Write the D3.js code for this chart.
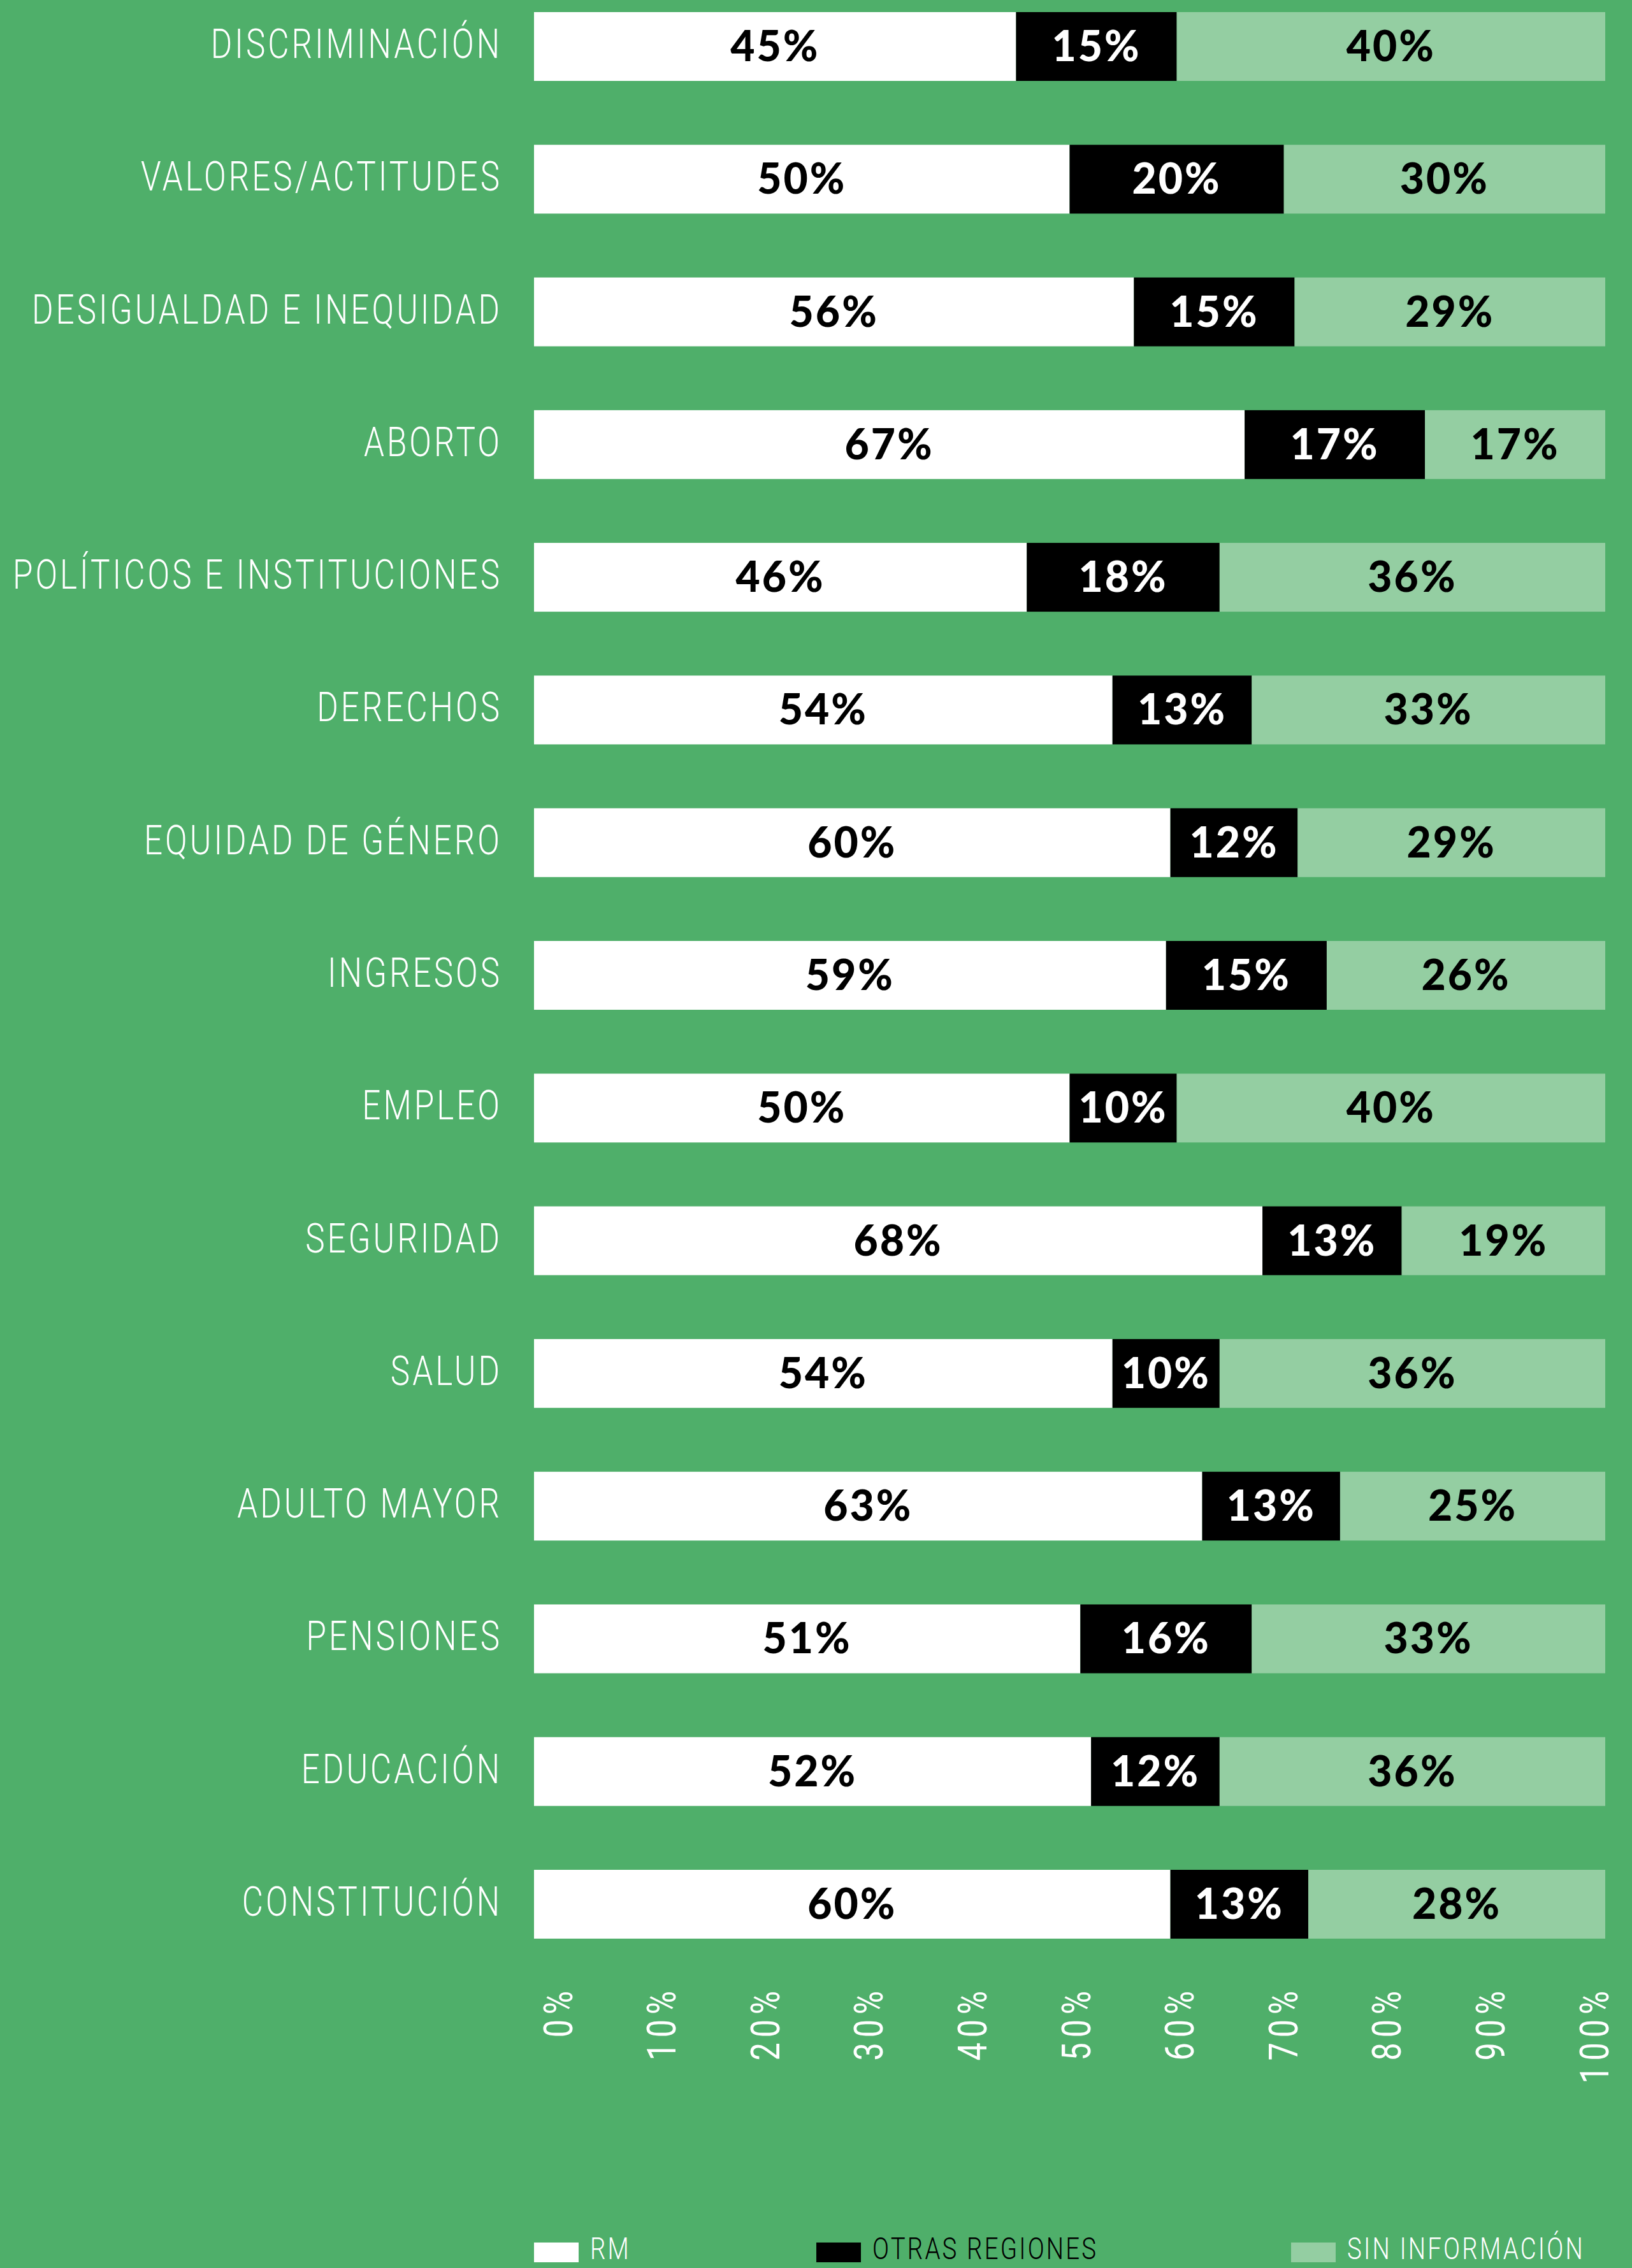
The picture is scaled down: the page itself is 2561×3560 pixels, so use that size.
<!doctype html>
<html>
<head>
<meta charset="utf-8">
<script src="https://cdn.jsdelivr.net/npm/d3@7"></script>
<style>
  html, body { margin: 0; padding: 0; background: #4faf6a; }
  svg { display: block; }
</style>
</head>
<body>
<script>
const categories = ["DISCRIMINACIÓN", "VALORES/ACTITUDES", "DESIGUALDAD E INEQUIDAD", "ABORTO",
  "POLÍTICOS E INSTITUCIONES", "DERECHOS", "EQUIDAD DE GÉNERO", "INGRESOS", "EMPLEO",
  "SEGURIDAD", "SALUD", "ADULTO MAYOR", "PENSIONES", "EDUCACIÓN", "CONSTITUCIÓN"];
const rm = [45, 50, 56, 67, 46, 54, 60, 59, 50, 68, 54, 63, 51, 52, 60];
const otras = [15, 20, 15, 17, 18, 13, 12, 15, 10, 13, 10, 13, 16, 12, 13];
const sinInfo = [40, 30, 29, 17, 36, 33, 29, 26, 40, 19, 36, 25, 33, 36, 28];
const seriesNames = ["RM", "OTRAS REGIONES", "SIN INFORMACIÓN"];
const ticks = [0, 10, 20, 30, 40, 50, 60, 70, 80, 90, 100];

const W = 2561, H = 3560;
const bg = "#4faf6a";
const fills = ["#ffffff", "#000000", "#94cea2"];
const textFills = ["#000000", "#ffffff", "#000000"];
const legendText = ["#ffffff", "#000000", "#ffffff"];

const rows = categories.map((c, i) => ({cat: c, vals: [rm[i], otras[i], sinInfo[i]]}));

const x = d3.scaleLinear().domain([0, 1]).range([838, 2519]);
const xAxisScale = d3.scaleLinear().domain([0, 100]).range([876, 2502]);
const y = d3.scaleBand().domain(categories).range([19, 3043]).paddingInner(0.4815);

const svg = d3.select("body").append("svg").attr("width", W).attr("height", H);
svg.append("rect").attr("width", W).attr("height", H).attr("fill", bg);

const thin = "Roboto, 'Liberation Sans', sans-serif";
const heavy = "Lato, 'DejaVu Sans', sans-serif";

// bars
const row = svg.selectAll("g.row").data(rows).join("g")
    .attr("class", "row")
    .attr("transform", d => `translate(0,${y(d.cat)})`);

row.each(function(d) {
  const total = d3.sum(d.vals);
  let acc = 0;
  const segs = d.vals.map((v, k) => {
    const s = {k, v, x0: acc / total, x1: (acc + v) / total};
    acc += v;
    return s;
  });
  const g = d3.select(this);
  g.selectAll("rect").data(segs).join("rect")
      .attr("x", s => x(s.x0))
      .attr("width", s => x(s.x1) - x(s.x0))
      .attr("height", y.bandwidth())
      .attr("fill", s => fills[s.k]);
  g.selectAll("text").data(segs).join("text")
      .attr("x", s => (x(s.x0) + x(s.x1)) / 2)
      .attr("y", y.bandwidth() / 2 + 23)
      .attr("text-anchor", "middle")
      .attr("font-family", heavy)
      .attr("font-weight", 900)
      .attr("font-size", 66)
      .attr("letter-spacing", 3)
      .attr("fill", s => textFills[s.k])
      .text(s => s.v + "%");
});

// category labels
svg.selectAll("g.cat").data(categories).join("g")
    .attr("class", "cat")
    .attr("transform", d => `translate(788,${y(d) + y.bandwidth() / 2 + 18}) scale(0.8,1)`)
  .append("text")
    .attr("text-anchor", "end")
    .attr("font-family", thin)
    .attr("font-weight", 300)
    .attr("font-size", 64)
    .attr("letter-spacing", 5)
    .attr("fill", "#fff")
    .text(d => d);

// axis labels, rotated
svg.selectAll("g.tick").data(ticks).join("g")
    .attr("class", "tick")
    .attr("transform", d => `translate(${xAxisScale(d)},3117) rotate(-90) scale(0.8,1)`)
  .append("text")
    .attr("text-anchor", "end")
    .attr("dominant-baseline", "central")
    .attr("font-family", thin)
    .attr("font-weight", 400)
    .attr("font-size", 63)
    .attr("letter-spacing", 10)
    .attr("fill", "#fff")
    .text(d => d + "%");

// legend
const legendX = [838, 1281, 2026];
const lg = svg.selectAll("g.legend").data(seriesNames).join("g")
    .attr("class", "legend")
    .attr("transform", (d, i) => `translate(${legendX[i]},3520)`);
lg.append("rect").attr("width", 70).attr("height", 31).attr("fill", (d, i) => fills[i]);
lg.append("g").attr("transform", "translate(88,26) scale(0.8,1)")
  .append("text")
    .attr("font-family", thin)
    .attr("font-weight", 300)
    .attr("font-size", 48)
    .attr("letter-spacing", 4)
    .attr("fill", (d, i) => legendText[i])
    .text(d => d);
</script>
</body>
</html>
